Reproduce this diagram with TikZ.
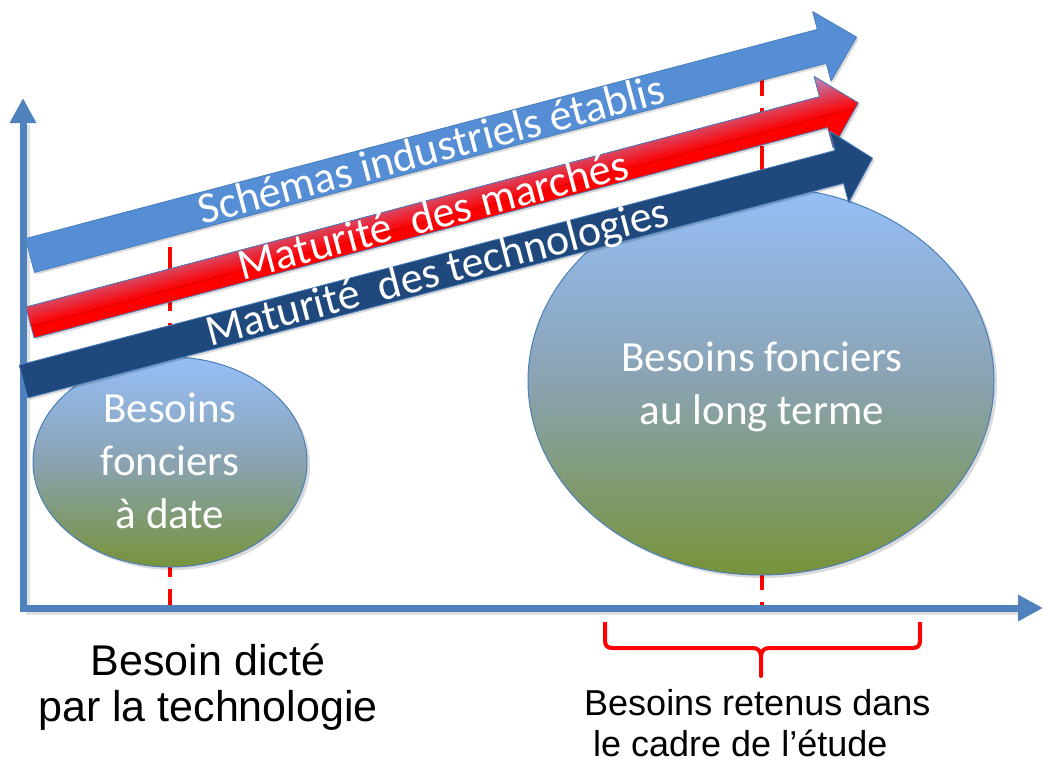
\documentclass[tikz,border=0pt]{standalone}
\usepackage{fontspec}
\newfontfamily\calib{Carlito}
\newfontfamily\arialf{Liberation Sans}
\usetikzlibrary{arrows.meta,shapes.geometric}

\definecolor{axisblue}{HTML}{4F81BD}
\definecolor{schemablue}{HTML}{558ED5}
\definecolor{techblue}{HTML}{1F497D}
\definecolor{edgeblue}{HTML}{4A7EBB}
\definecolor{marketlilac}{RGB}{178,140,196}
\definecolor{marketred}{HTML}{FF0000}
\definecolor{needtop}{RGB}{150,191,248}
\definecolor{needmid}{RGB}{138,163,178}
\definecolor{needbot}{RGB}{119,147,58}
\definecolor{markred}{HTML}{FF0000}

\begin{document}
\begin{tikzpicture}[x=1pt,y=-1pt,
  axisline/.style={draw=axisblue, line width=7pt, -{Triangle[length=25pt,width=25pt]}},
  axisshadow/.style={draw=black, opacity=0.12, line width=7pt},
  guide/.style={draw=markred, line width=4pt, dash pattern=on 26pt off 12pt},
  needblob/.style={ellipse, draw=edgeblue, line width=1pt, inner sep=0pt,
    top color=needtop, bottom color=needbot, middle color=needmid},
  blobshadow/.style={ellipse, fill=black, opacity=0.14, inner sep=0pt},
  needtext/.style={text=white, font=\calib\fontsize{43}{52}\selectfont, inner sep=0pt, anchor=base},
  flowedge/.style={draw=edgeblue, line width=0.8pt, line join=round},
  flowshadow/.style={fill=black, opacity=0.15},
  flowtext/.style={text=white, font=\calib\fontsize{44}{52}\selectfont, inner sep=0pt, anchor=base},
  captext/.style={text=black, font=\arialf\fontsize{43}{52}\selectfont, inner sep=0pt, anchor=base},
  notetext/.style={text=black, font=\arialf\fontsize{36}{42}\selectfont, inner sep=0pt, anchor=base west},
  braceline/.style={draw=markred, line width=4pt, line join=round}
]
\useasboundingbox (0,0) rectangle (1043,760);

% dashed reference lines (behind everything)
\draw[guide, dash phase=8pt] (170,607) -- (170,247);
\draw[guide, dash phase=21pt] (762,607) -- (762,50);

% axes with a faint shadow
\draw[axisshadow] (26,612) -- (26,125);
\draw[axisshadow] (26,611) -- (1030,611);
\draw[axisline] (23,611.5) -- (23,98);
\draw[axisline] (19.5,608) -- (1043,608);

% land needs
\node[blobshadow, minimum width=274pt, minimum height=210pt] (nowshadow) at (173,465) {};
\node[needblob, minimum width=274pt, minimum height=210pt] (nowneed) at (170,462) {};
\node[blobshadow, minimum width=466pt, minimum height=388pt] (longshadow) at (764,384) {};
\node[needblob, minimum width=466pt, minimum height=388pt] (longneed) at (761,381) {};

\node[needtext] (now1) at (170,422) {Besoins};
\node[needtext] (now2) at (170,475) {fonciers};
\node[needtext] (now3) at (170,528) {à date};
\node[needtext] (long1) at (762,371) {Besoins fonciers};
\node[needtext] (long2) at (762,424) {au long terme};

% established industrial schemes
\begin{scope}[transform canvas={shift={(30,255.5)}, rotate=14.8}]
  \fill[flowshadow] (1.5,-15) -- (820.5,-15) -- (820.5,-33.5) -- (856.5,2.5) -- (820.5,38.5) -- (820.5,20) -- (1.5,20) -- cycle;
  \path[flowedge, fill=schemablue] (0,-17.5) -- (819,-17.5) -- (819,-36) -- (855,0) -- (819,36) -- (819,17.5) -- (0,17.5) -- cycle;
  \node[flowtext] (schemas) at (415,14.5) {Schémas industriels établis};
\end{scope}

% market maturity
\begin{scope}[transform canvas={shift={(30,322.5)}, rotate=14.85}]
  \fill[flowshadow] (1.5,-13.5) -- (822.5,-13.5) -- (822.5,-34.5) -- (858.5,2.5) -- (822.5,39.5) -- (822.5,18.5) -- (1.5,18.5) -- cycle;
  \begin{scope}
    \clip (0,-16) -- (821,-16) -- (821,-37) -- (857,0) -- (821,37) -- (821,16) -- (0,16) -- cycle;
    \fill[marketred] (-5,-40) rectangle (862,40);
    \fill[top color=marketlilac, bottom color=marketred] (-5,-37) rectangle (862,4);
  \end{scope}
  \path[flowedge] (0,-16) -- (821,-16) -- (821,-37) -- (857,0) -- (821,37) -- (821,16) -- (0,16) -- cycle;
  \node[flowtext] (markets) at (417,14) {Maturité~ des marchés};
\end{scope}

% technology maturity
\begin{scope}[transform canvas={shift={(23.5,381.5)}, rotate=14.74}]
  \fill[flowshadow] (1.5,-14.5) -- (845,-14.5) -- (845,-34.5) -- (879.5,2.5) -- (845,39.5) -- (845,19.5) -- (1.5,19.5) -- cycle;
  \path[flowedge, fill=techblue] (0,-17) -- (843.5,-17) -- (843.5,-37) -- (878,0) -- (843.5,37) -- (843.5,17) -- (0,17) -- cycle;
  \node[flowtext] (techs) at (428,13.5) {Maturité~ des technologies};
\end{scope}

% captions
\node[captext] (cap1) at (208,675) {Besoin dicté};
\node[captext] (cap2) at (208,721) {par la technologie};

% brace over the retained range
\draw[braceline] (605,622) -- (605,640) .. controls (605,646) and (607,648) .. (613,648)
  -- (753,648) .. controls (758,648) and (761,651) .. (761,657) -- (761,676)
  -- (761,657) .. controls (761,651) and (764,648) .. (769,648)
  -- (912,648) .. controls (918,648) and (920,646) .. (920,640) -- (920,622);
\node[notetext] (note1) at (584,715) {Besoins retenus dans};
\node[notetext] (note2) at (593,756) {le cadre de l’étude};
\end{tikzpicture}
\end{document}
